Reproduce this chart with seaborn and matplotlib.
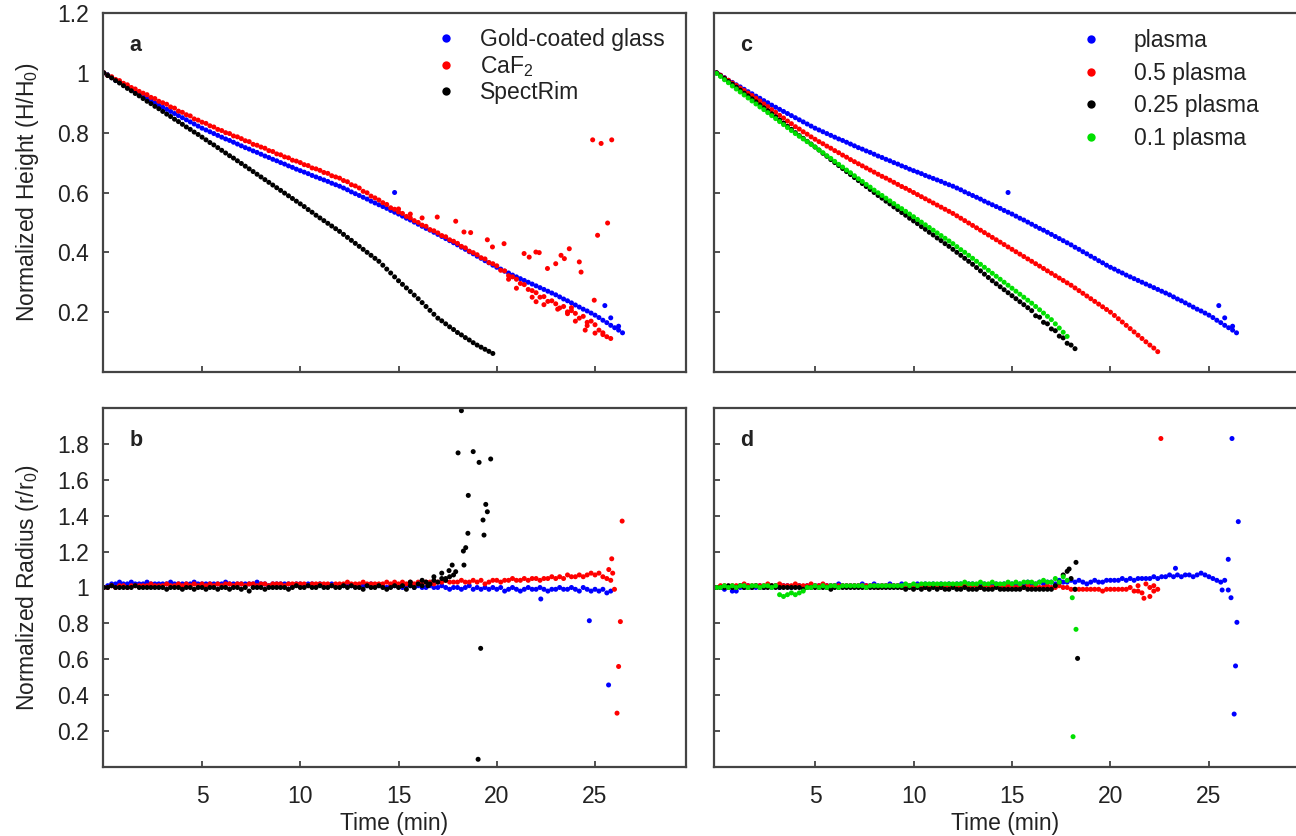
import numpy as np
import pandas as pd
import matplotlib
matplotlib.use("Agg")
import matplotlib.pyplot as plt
import seaborn as sns
from matplotlib.lines import Line2D

# ---------------- data ----------------
STEP = 0.2  # sampling interval of the measurements (min)

# panel a / c : normalized height
gold_h = [1.000, 0.992, 0.984, 0.975, 0.968, 0.960, 0.953, 0.945, 0.937, 0.930,
          0.922, 0.915, 0.907, 0.900, 0.892, 0.885, 0.878, 0.871, 0.864, 0.857,
          0.850, 0.843, 0.836, 0.829, 0.822, 0.815, 0.809, 0.803, 0.797, 0.791,
          0.785, 0.779, 0.774, 0.768, 0.762, 0.756, 0.750, 0.745, 0.739, 0.734,
          0.728, 0.722, 0.717, 0.711, 0.706, 0.700, 0.695, 0.689, 0.684, 0.678,
          0.673, 0.668, 0.663, 0.657, 0.652, 0.647, 0.642, 0.637, 0.631, 0.626,
          0.621, 0.615, 0.609, 0.602, 0.596, 0.590, 0.584, 0.578, 0.571, 0.565,
          0.559, 0.553, 0.547, 0.540, 0.534, 0.528, 0.521, 0.514, 0.508, 0.501,
          0.494, 0.487, 0.480, 0.474, 0.467, 0.460, 0.453, 0.446, 0.439, 0.432,
          0.425, 0.417, 0.410, 0.402, 0.395, 0.387, 0.380, 0.372, 0.365, 0.357,
          0.350, 0.344, 0.337, 0.331, 0.324, 0.318, 0.312, 0.306, 0.300, 0.294,
          0.288, 0.282, 0.276, 0.270, 0.264, 0.258, 0.251, 0.244, 0.238, 0.231,
          0.224, 0.217, 0.210, 0.204, 0.197, 0.190, 0.182, 0.173, 0.165, 0.156,
          0.148, 0.140, 0.131]
gold_h_out_t = [14.8, 25.5, 25.8, 26.2]
gold_h_out = [0.600, 0.222, 0.181, 0.153]

caf2_h = [1.000, 0.991, 0.987, 0.978, 0.974, 0.965, 0.960, 0.951, 0.946, 0.938,
          0.932, 0.927, 0.918, 0.914, 0.905, 0.900, 0.895, 0.886, 0.882, 0.872,
          0.868, 0.860, 0.856, 0.846, 0.842, 0.835, 0.831, 0.823, 0.819, 0.811,
          0.807, 0.800, 0.797, 0.789, 0.786, 0.780, 0.773, 0.770, 0.761, 0.758,
          0.752, 0.748, 0.740, 0.737, 0.729, 0.726, 0.719, 0.716, 0.708, 0.705,
          0.700, 0.693, 0.690, 0.682, 0.679, 0.674, 0.667, 0.664, 0.656, 0.652,
          0.648, 0.640, 0.636, 0.626, 0.622, 0.615, 0.604, 0.599, 0.588, 0.582,
          0.575, 0.566, 0.560, 0.549, 0.544, 0.535, 0.530, 0.520, 0.515, 0.506,
          0.500, 0.491, 0.487, 0.476, 0.472, 0.465, 0.456, 0.452, 0.442, 0.437,
          0.430, 0.420, 0.415, 0.404, 0.399, 0.392, 0.382, 0.378, 0.366, 0.362,
          0.355, 0.340, 0.338, 0.322, 0.318, 0.310, 0.296, 0.292, 0.276, 0.272,
          0.265, 0.250, 0.252, 0.236, 0.238, 0.228, 0.214, 0.219, 0.201, 0.205,
          0.196, 0.180, 0.186, 0.166, 0.170, 0.158, 0.140, 0.131, 0.118, 0.112]
caf2_h_out_t = [15.0, 15.6, 16.2, 16.97, 17.91, 18.33, 18.67, 19.52, 19.78, 20.37,
                21.39, 21.65, 21.99, 22.16, 22.58, 23.0, 23.27, 23.44, 23.69, 24.2,
                24.29, 24.88, 25.31, 25.85, 25.64, 25.13, 24.96, 20.6, 21.0, 21.8,
                22.0, 22.4, 23.1, 23.6, 23.8, 24.0, 24.5, 24.6, 25.0, 25.4]
caf2_h_out = [0.545, 0.528, 0.515, 0.518, 0.504, 0.468, 0.466, 0.442, 0.418, 0.429,
              0.396, 0.384, 0.401, 0.399, 0.346, 0.362, 0.390, 0.379, 0.412, 0.368,
              0.334, 0.776, 0.764, 0.776, 0.498, 0.457, 0.240, 0.310, 0.280, 0.250,
              0.235, 0.225, 0.210, 0.195, 0.215, 0.170, 0.140, 0.155, 0.130, 0.125]

spect_h = [1.000, 0.991, 0.983, 0.974, 0.966, 0.957, 0.948, 0.940, 0.931, 0.923,
           0.914, 0.905, 0.897, 0.888, 0.880, 0.871, 0.862, 0.854, 0.845, 0.837,
           0.828, 0.819, 0.811, 0.802, 0.794, 0.785, 0.776, 0.767, 0.759, 0.750,
           0.741, 0.732, 0.723, 0.715, 0.706, 0.697, 0.688, 0.679, 0.670, 0.661,
           0.652, 0.643, 0.634, 0.625, 0.616, 0.607, 0.598, 0.589, 0.580, 0.571,
           0.562, 0.553, 0.543, 0.534, 0.524, 0.515, 0.506, 0.497, 0.488, 0.479,
           0.470, 0.460, 0.450, 0.440, 0.430, 0.420, 0.410, 0.400, 0.390, 0.380,
           0.370, 0.357, 0.344, 0.331, 0.318, 0.305, 0.293, 0.281, 0.269, 0.257,
           0.245, 0.232, 0.219, 0.206, 0.193, 0.180, 0.171, 0.161, 0.151, 0.142,
           0.132, 0.124, 0.115, 0.107, 0.098, 0.090, 0.083, 0.076, 0.069, 0.062]

p05_h = [1.000, 0.992, 0.983, 0.975, 0.966, 0.958, 0.949, 0.941, 0.932, 0.924,
         0.915, 0.906, 0.896, 0.887, 0.877, 0.868, 0.858, 0.849, 0.839, 0.830,
         0.820, 0.812, 0.803, 0.795, 0.786, 0.778, 0.770, 0.763, 0.755, 0.748,
         0.740, 0.733, 0.725, 0.718, 0.710, 0.703, 0.696, 0.689, 0.682, 0.675,
         0.668, 0.661, 0.654, 0.648, 0.641, 0.634, 0.627, 0.620, 0.614, 0.607,
         0.600, 0.593, 0.586, 0.579, 0.572, 0.565, 0.558, 0.551, 0.544, 0.537,
         0.530, 0.522, 0.514, 0.506, 0.498, 0.490, 0.482, 0.474, 0.466, 0.458,
         0.450, 0.442, 0.434, 0.426, 0.418, 0.410, 0.402, 0.394, 0.386, 0.378,
         0.370, 0.362, 0.354, 0.346, 0.338, 0.330, 0.322, 0.314, 0.306, 0.298,
         0.290, 0.281, 0.272, 0.263, 0.254, 0.245, 0.236, 0.227, 0.218, 0.209,
         0.200, 0.189, 0.178, 0.167, 0.156, 0.145, 0.134, 0.123, 0.112, 0.101,
         0.090, 0.080, 0.068]

p025_h = [1.000, 0.990, 0.981, 0.971, 0.962, 0.952, 0.942, 0.932, 0.923, 0.913,
          0.903, 0.893, 0.883, 0.873, 0.863, 0.853, 0.842, 0.832, 0.821, 0.811,
          0.800, 0.790, 0.781, 0.771, 0.762, 0.752, 0.742, 0.731, 0.721, 0.710,
          0.700, 0.690, 0.680, 0.670, 0.660, 0.650, 0.640, 0.630, 0.620, 0.610,
          0.600, 0.590, 0.581, 0.571, 0.562, 0.552, 0.543, 0.533, 0.524, 0.514,
          0.505, 0.496, 0.486, 0.477, 0.467, 0.458, 0.448, 0.439, 0.429, 0.420,
          0.410, 0.400, 0.390, 0.380, 0.370, 0.360, 0.349, 0.338, 0.327, 0.316,
          0.305, 0.295, 0.285, 0.275, 0.265, 0.255, 0.245, 0.235, 0.225, 0.215,
          0.205, 0.188, 0.183, 0.166, 0.161, 0.144, 0.138, 0.120, 0.114, 0.096,
          0.090, 0.078]

p01_h = [0.998, 0.988, 0.977, 0.967, 0.956, 0.946, 0.936, 0.926, 0.916, 0.906,
         0.896, 0.886, 0.877, 0.867, 0.857, 0.847, 0.837, 0.827, 0.817, 0.807,
         0.797, 0.788, 0.779, 0.770, 0.761, 0.752, 0.742, 0.733, 0.723, 0.714,
         0.704, 0.694, 0.685, 0.675, 0.666, 0.656, 0.646, 0.637, 0.627, 0.618,
         0.608, 0.599, 0.590, 0.581, 0.572, 0.563, 0.554, 0.546, 0.537, 0.528,
         0.519, 0.510, 0.501, 0.492, 0.483, 0.474, 0.465, 0.456, 0.447, 0.438,
         0.429, 0.419, 0.409, 0.400, 0.390, 0.380, 0.370, 0.360, 0.350, 0.340,
         0.330, 0.320, 0.310, 0.300, 0.290, 0.280, 0.270, 0.260, 0.250, 0.240,
         0.230, 0.219, 0.208, 0.197, 0.186, 0.175, 0.161, 0.147, 0.133, 0.119]

# panel b : normalized radius
gold_r = [1.00, 1.01, 1.02, 1.02, 1.03, 1.02, 1.02, 1.03, 1.02, 1.02,
          1.02, 1.03, 1.02, 1.02, 1.02, 1.02, 1.02, 1.03, 1.02, 1.02,
          1.02, 1.02, 1.02, 1.03, 1.02, 1.02, 1.02, 1.02, 1.02, 1.02,
          1.02, 1.03, 1.02, 1.02, 1.02, 1.02, 1.02, 1.02, 1.02, 1.03,
          1.02, 1.02, 1.01, 1.02, 1.02, 1.02, 1.02, 1.02, 1.01, 1.02,
          1.02, 1.01, 1.02, 1.02, 1.01, 1.02, 1.01, 1.01, 1.02, 1.01,
          1.01, 1.01, 1.02, 1.01, 1.01, 1.01, 1.01, 1.01, 1.02, 1.01,
          1.01, 1.01, 1.00, 1.01, 1.01, 1.01, 1.00, 1.01, 1.01, 1.00,
          1.01, 1.00, 1.00, 1.01, 1.00, 1.00, 1.01, 1.00, 0.99, 1.00,
          1.00, 0.99, 1.00, 1.01, 0.99, 1.00, 0.99, 1.00, 0.99, 1.00,
          0.99, 1.00, 0.98, 0.99, 1.00, 0.99, 0.98, 0.99, 1.00, 0.99,
          0.99, 1.00, 0.99, 0.98, 0.99, 0.99, 1.00, 0.99, 0.99, 1.00,
          0.99, 0.98, 1.00, 0.99, 0.98, 0.99, 0.98, 0.99, 0.97, 0.98]
gold_r_out_t = [22.24, 24.71, 25.69]
gold_r_out = [0.936, 0.815, 0.457]

caf2_r = [1.00, 1.00, 1.01, 1.00, 1.01, 1.01, 1.00, 1.01, 1.01, 1.01,
          1.01, 1.01, 1.02, 1.01, 1.01, 1.01, 1.02, 1.01, 1.01, 1.02,
          1.01, 1.02, 1.01, 1.02, 1.01, 1.02, 1.01, 1.02, 1.01, 1.02,
          1.01, 1.02, 1.02, 1.01, 1.02, 1.02, 1.01, 1.02, 1.02, 1.01,
          1.02, 1.02, 1.01, 1.02, 1.02, 1.02, 1.01, 1.02, 1.02, 1.02,
          1.02, 1.02, 1.01, 1.02, 1.02, 1.02, 1.02, 1.02, 1.01, 1.02,
          1.02, 1.02, 1.03, 1.02, 1.02, 1.02, 1.03, 1.02, 1.02, 1.02,
          1.02, 1.02, 1.03, 1.02, 1.03, 1.02, 1.03, 1.02, 1.03, 1.02,
          1.03, 1.02, 1.03, 1.03, 1.02, 1.03, 1.03, 1.04, 1.03, 1.03,
          1.03, 1.04, 1.03, 1.03, 1.04, 1.03, 1.04, 1.02, 1.03, 1.04,
          1.04, 1.03, 1.04, 1.04, 1.05, 1.04, 1.04, 1.05, 1.04, 1.05,
          1.05, 1.04, 1.05, 1.05, 1.06, 1.05, 1.06, 1.05, 1.07, 1.06,
          1.06, 1.07, 1.06, 1.07, 1.08, 1.07, 1.08, 1.06, 1.05, 1.04]
caf2_r_out_t = [25.7, 25.9, 25.85, 25.99, 26.38, 26.29, 26.2, 26.12]
caf2_r_out = [1.10, 1.08, 1.16, 0.99, 1.37, 0.81, 0.56, 0.30]

spect_r = [1.00, 1.00, 1.01, 1.00, 1.00, 1.00, 1.00, 1.00, 1.01, 1.00,
           1.00, 1.00, 1.00, 1.00, 1.00, 1.00, 0.99, 1.00, 1.00, 1.00,
           0.99, 1.00, 1.00, 0.99, 1.00, 1.00, 0.99, 1.00, 1.00, 0.99,
           1.00, 1.00, 0.99, 1.00, 1.00, 0.99, 1.00, 0.98, 1.00, 1.00,
           1.00, 0.99, 1.00, 1.00, 1.00, 1.00, 1.00, 0.99, 1.00, 1.01,
           1.00, 1.00, 1.01, 1.00, 1.00, 1.01, 1.00, 1.00, 1.01, 1.00,
           1.00, 1.01, 1.00, 1.01, 1.00, 1.00, 0.99, 1.01, 1.00, 1.00,
           1.01, 1.00, 0.99, 1.00, 1.01, 1.00, 1.01, 0.99, 1.01, 1.00,
           1.02, 1.01, 1.03, 1.02, 1.04, 1.03, 1.05, 1.04, 1.06, 1.07]
spect_r_out_t = [15.6, 16.2, 16.5, 16.8, 17.2, 17.4, 17.57, 17.73, 17.91, 18.03,
                 18.2, 18.3, 18.33, 18.42, 18.53, 18.55, 18.8, 19.05, 19.1, 19.18,
                 19.3, 19.35, 19.44, 19.52, 19.69]
spect_r_out = [1.03, 1.04, 1.01, 1.06, 1.08, 1.05, 1.094, 1.125, 1.088, 1.75,
               1.985, 1.203, 1.125, 1.222, 1.302, 1.513, 1.757, 0.043, 1.697, 0.661,
               1.376, 1.292, 1.463, 1.422, 1.716]

# panel d : normalized radius
plasma_r = [1.00, 1.00, 0.99, 1.00, 0.98, 0.98, 1.00, 1.00, 1.01, 1.00,
            1.00, 1.01, 1.00, 1.01, 1.00, 1.01, 1.00, 1.01, 1.01, 1.00,
            1.01, 1.01, 1.00, 1.01, 1.01, 1.01, 1.01, 1.01, 1.01, 1.01,
            1.01, 1.02, 1.01, 1.01, 1.01, 1.01, 1.01, 1.02, 1.01, 1.01,
            1.02, 1.01, 1.01, 1.01, 1.02, 1.01, 1.01, 1.02, 1.01, 1.01,
            1.01, 1.02, 1.01, 1.02, 1.01, 1.02, 1.01, 1.02, 1.01, 1.02,
            1.01, 1.02, 1.02, 1.01, 1.02, 1.02, 1.01, 1.02, 1.02, 1.01,
            1.02, 1.02, 1.01, 1.02, 1.02, 1.02, 1.01, 1.02, 1.02, 1.03,
            1.02, 1.02, 1.03, 1.02, 1.03, 1.03, 1.02, 1.04, 1.03, 1.03,
            1.04, 1.03, 1.04, 1.03, 1.02, 1.03, 1.04, 1.03, 1.03, 1.04,
            1.04, 1.04, 1.04, 1.05, 1.04, 1.05, 1.04, 1.05, 1.05, 1.05,
            1.05, 1.06, 1.05, 1.06, 1.06, 1.07, 1.06, 1.07, 1.06, 1.07,
            1.07, 1.06, 1.07, 1.08, 1.07, 1.06, 1.05, 1.04, 1.03, 1.04]
plasma_r_out_t = [23.3, 25.67, 25.98, 25.98, 26.12, 26.17, 26.28, 26.35, 26.42, 26.49]
plasma_r_out = [1.107, 0.986, 0.986, 1.157, 0.943, 1.83, 0.295, 0.563, 0.806, 1.367]

p05_r = [1.00, 1.01, 1.01, 1.00, 1.01, 1.01, 1.01, 1.02, 1.01, 1.01,
         1.01, 1.01, 1.01, 1.02, 1.01, 1.01, 1.02, 1.01, 1.01, 1.01,
         1.02, 1.01, 1.01, 1.01, 1.02, 1.01, 1.01, 1.02, 1.01, 1.01,
         1.01, 1.01, 1.01, 1.01, 1.01, 1.01, 1.01, 1.01, 1.01, 1.01,
         1.01, 1.00, 1.01, 1.01, 1.01, 1.01, 1.01, 1.00, 1.01, 1.01,
         1.01, 1.01, 1.01, 1.00, 1.01, 1.01, 1.01, 1.00, 1.01, 1.01,
         1.01, 1.00, 1.01, 1.01, 1.00, 1.01, 1.01, 1.00, 1.01, 1.01,
         1.00, 1.01, 1.01, 1.00, 1.01, 1.01, 1.00, 1.01, 1.00, 1.01,
         1.00, 1.01, 1.00, 1.00, 1.01, 1.00, 1.00, 1.01, 1.00, 1.00,
         0.99, 0.99, 0.99, 0.99, 0.99, 0.99, 0.99, 0.99, 0.98, 0.99,
         0.99, 0.99, 0.99, 0.99, 0.99, 1.00, 0.98, 1.01, 0.97, 1.02,
         1.00, 0.98, 0.99]
p05_r_out_t = [21.4, 21.7, 22.0, 22.2, 22.56]
p05_r_out = [0.98, 0.94, 0.95, 1.01, 1.83]

p025_r = [1.00, 1.00, 1.00, 1.01, 1.00, 1.00, 1.01, 1.00, 1.00, 1.00,
          1.01, 1.00, 1.00, 1.00, 1.01, 1.00, 1.00, 1.00, 1.00, 1.00,
          1.00, 1.00, 0.99, 1.00, 1.00, 1.00, 1.00, 1.00, 1.00, 0.99,
          1.00, 1.00, 1.00, 1.00, 1.00, 1.00, 1.00, 1.00, 1.00, 1.00,
          1.00, 1.00, 1.00, 1.00, 1.00, 1.00, 1.00, 1.00, 0.99, 1.00,
          0.99, 1.00, 0.99, 1.00, 0.99, 1.00, 0.99, 1.00, 0.99, 0.99,
          1.00, 0.99, 0.99, 1.00, 0.99, 0.99, 0.99, 1.00, 0.99, 0.99,
          0.99, 1.00, 0.99, 0.99, 0.99, 0.99, 0.99, 0.99, 1.00, 0.99,
          0.99, 0.99, 0.99, 0.99, 0.99, 0.99, 1.01, 1.03, 1.07, 1.09,
          1.05, 0.99]
p025_r_out_t = [17.9, 18.25, 18.33]
p025_r_out = [1.103, 1.14, 0.605]

p01_r = [1.00, 1.00, 1.01, 1.00, 1.01, 1.00, 1.01, 1.01, 1.00, 1.01,
         1.01, 1.00, 1.01, 1.01, 1.00, 1.01, 0.96, 0.95, 0.96, 0.97,
         0.96, 0.97, 0.98, 1.00, 1.00, 1.01, 1.00, 1.01, 1.00, 1.01,
         1.01, 1.00, 1.01, 1.01, 1.01, 1.01, 1.01, 1.01, 1.00, 1.01,
         1.01, 1.01, 1.01, 1.01, 1.01, 1.01, 1.01, 1.01, 1.02, 1.01,
         1.02, 1.01, 1.02, 1.02, 1.02, 1.02, 1.02, 1.02, 1.02, 1.02,
         1.02, 1.02, 1.02, 1.03, 1.02, 1.02, 1.02, 1.03, 1.02, 1.02,
         1.03, 1.02, 1.02, 1.02, 1.03, 1.02, 1.03, 1.02, 1.03, 1.03,
         1.03, 1.02, 1.03, 1.04, 1.03, 1.03, 1.05, 1.03, 1.06, 1.04]
p01_r_out_t = [18.06, 18.1, 18.25]
p01_r_out = [0.943, 0.169, 0.767]

# labels
legend_ab = ["Gold-coated glass", "CaF$_2$", "SpectRim"]
legend_cd = ["plasma", "0.5 plasma", "0.25 plasma", "0.1 plasma"]
xticks = [5, 10, 15, 20, 25]
yticks_top = [0.2, 0.4, 0.6, 0.8, 1.0, 1.2]
yticks_bot = [0.2, 0.4, 0.6, 0.8, 1.0, 1.2, 1.4, 1.6, 1.8]

# ---------------- styling ----------------
sns.set_style("white")
plt.rcParams["font.family"] = ["Liberation Sans", "DejaVu Sans"]
plt.rcParams["mathtext.fontset"] = "custom"
plt.rcParams["mathtext.rm"] = "Liberation Sans"
plt.rcParams["mathtext.it"] = "Liberation Sans:italic"
plt.rcParams["mathtext.bf"] = "Liberation Sans:bold"

BLUE, RED, BLACK, GREEN = "#0000ff", "#ff0000", "#000000", "#00e000"
TEXT = "#222222"
SPINE = "#444444"
FS = 16.5


def sdf(vals, name, t=None):
    if t is None:
        t = np.round(np.arange(len(vals)) * STEP, 2)
    return pd.DataFrame({"time": t, "value": vals, "series": name})


fig = plt.figure(figsize=(12.96, 8.36), dpi=100)
W, H = 1296.0, 836.0


def add_ax(x0, y0, x1, y1):
    return fig.add_axes([x0 / W, 1 - y1 / H, (x1 - x0) / W, (y1 - y0) / H])


ax_a = add_ax(103, 13, 686, 372)
ax_b = add_ax(103, 408, 686, 767)
ax_c = add_ax(714, 13, 1296, 372)
ax_d = add_ax(714, 408, 1296, 767)

pal_ab = {legend_ab[0]: BLUE, legend_ab[1]: RED, legend_ab[2]: BLACK}
pal_cd = {legend_cd[0]: BLUE, legend_cd[1]: RED, legend_cd[2]: BLACK, legend_cd[3]: GREEN}

df_a = pd.concat([
    sdf(gold_h, legend_ab[0]), sdf(gold_h_out, legend_ab[0], gold_h_out_t),
    sdf(caf2_h, legend_ab[1]), sdf(caf2_h_out, legend_ab[1], caf2_h_out_t),
    sdf(spect_h, legend_ab[2]),
])
df_b = pd.concat([
    sdf(gold_r, legend_ab[0]), sdf(gold_r_out, legend_ab[0], gold_r_out_t),
    sdf(caf2_r, legend_ab[1]), sdf(caf2_r_out, legend_ab[1], caf2_r_out_t),
    sdf(spect_r, legend_ab[2]), sdf(spect_r_out, legend_ab[2], spect_r_out_t),
])
df_c = pd.concat([
    sdf(gold_h, legend_cd[0]), sdf(gold_h_out, legend_cd[0], gold_h_out_t),
    sdf(p05_h, legend_cd[1]),
    sdf(p025_h, legend_cd[2]),
    sdf(p01_h, legend_cd[3]),
])
df_d = pd.concat([
    sdf(plasma_r, legend_cd[0]), sdf(plasma_r_out, legend_cd[0], plasma_r_out_t),
    sdf(p05_r, legend_cd[1]), sdf(p05_r_out, legend_cd[1], p05_r_out_t),
    sdf(p025_r, legend_cd[2]), sdf(p025_r_out, legend_cd[2], p025_r_out_t),
    sdf(p01_r, legend_cd[3]), sdf(p01_r_out, legend_cd[3], p01_r_out_t),
])

for ax, df, pal in [(ax_a, df_a, pal_ab), (ax_b, df_b, pal_ab),
                    (ax_c, df_c, pal_cd), (ax_d, df_d, pal_cd)]:
    sns.scatterplot(data=df, x="time", y="value", hue="series", palette=pal,
                    s=13, linewidth=0, ax=ax, legend=False)

for ax in (ax_a, ax_b):
    ax.set_xlim(-0.04, 29.63)
for ax in (ax_c, ax_d):
    ax.set_xlim(-0.13, 29.42)
for ax in (ax_a, ax_c):
    ax.set_ylim(0, 1.2)
    ax.set_yticks(yticks_top)
for ax in (ax_b, ax_d):
    ax.set_ylim(0, 2.0)
    ax.set_yticks(yticks_bot)

for ax in (ax_a, ax_b, ax_c, ax_d):
    ax.set_xticks(xticks)
    ax.set_xlabel("")
    ax.set_ylabel("")
    for side in ("left", "bottom", "top", "right"):
        ax.spines[side].set_color(SPINE)
        ax.spines[side].set_linewidth(1.6)
    ax.tick_params(axis="both", direction="in", length=4, width=1.3,
                   color=SPINE, labelsize=FS, labelcolor=TEXT,
                   bottom=True, left=True, top=False, right=False)
    ax.tick_params(axis="y", pad=10)
    ax.tick_params(axis="x", pad=13)
    ax.set_yticklabels([f"{v:g}" for v in ax.get_yticks()])
for ax in (ax_c, ax_d):
    ax.spines["right"].set_visible(False)
    ax.tick_params(axis="y", labelleft=False)
for ax in (ax_a, ax_c):
    ax.tick_params(axis="x", labelbottom=False)
for ax in (ax_b, ax_d):
    ax.set_xlabel("Time (min)", fontsize=FS, color=TEXT, labelpad=3)

ax_a.set_ylabel("Normalized Height (H/H$_0$)", fontsize=FS, color=TEXT, labelpad=12)
ax_b.set_ylabel("Normalized Radius (r/r$_0$)", fontsize=FS, color=TEXT, labelpad=12)

for ax, letter in [(ax_a, "a"), (ax_b, "b"), (ax_c, "c"), (ax_d, "d")]:
    ax.text(0.045, 0.91, letter, transform=ax.transAxes, fontsize=15.5,
            fontweight="bold", color=TEXT, ha="left", va="center")


def handles(names, pal):
    return [Line2D([], [], linestyle="none", marker="o", markersize=6,
                   markerfacecolor=pal[n], markeredgewidth=0, label=n) for n in names]


ax_a.legend(handles=handles(legend_ab, pal_ab), loc="upper left",
            bbox_to_anchor=(0.5686, 0.958), frameon=False, fontsize=FS,
            handlelength=1.0, handletextpad=0.98, labelspacing=0.12,
            borderaxespad=0, borderpad=0, labelcolor=TEXT)
ax_c.legend(handles=handles(legend_cd, pal_cd), loc="upper left",
            bbox_to_anchor=(0.628, 0.955), frameon=False, fontsize=FS,
            handlelength=1.0, handletextpad=1.38, labelspacing=0.42,
            borderaxespad=0, borderpad=0, labelcolor=TEXT)

fig.savefig("out.png", dpi=100)
